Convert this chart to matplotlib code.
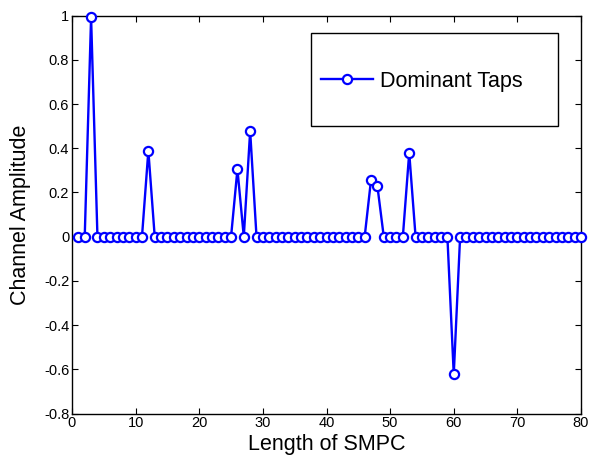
import numpy as np
import matplotlib
matplotlib.use('Agg')
import matplotlib.pyplot as plt
from matplotlib.patches import Rectangle

plt.rcParams['font.family'] = ['Liberation Sans', 'DejaVu Sans']
plt.rcParams['axes.unicode_minus'] = False

# tap index and channel amplitude (all other taps are zero)
NUM_TAPS = 80
tap_index = [3, 12, 26, 28, 47, 48, 53, 60]
tap_value = [0.993, 0.389, 0.305, 0.478, 0.258, 0.229, 0.38, -0.623]

x_ticks = [0, 10, 20, 30, 40, 50, 60, 70, 80]
y_ticks = [-0.8, -0.6, -0.4, -0.2, 0, 0.2, 0.4, 0.6, 0.8, 1]
y_tick_labels = ['-0.8', '-0.6', '-0.4', '-0.2', '0', '0.2', '0.4', '0.6', '0.8', '1']

x = np.arange(1, NUM_TAPS + 1)
y = np.zeros(NUM_TAPS)
for i, v in zip(tap_index, tap_value):
    y[i - 1] = v

fig = plt.figure(figsize=(5.89, 4.58), dpi=100)
ax = fig.add_axes([72/589, 1 - 413.5/458, (581 - 72)/589, (413.5 - 15.7)/458])

ax.plot(x, y, color='#0000ff', linewidth=1.7, marker='o', markersize=6.6,
        markerfacecolor='white', markeredgecolor='#0000ff', markeredgewidth=1.6,
        label='Dominant Taps', clip_on=False, zorder=3)

ax.set_xlim(0, 80)
ax.set_ylim(-0.8, 1)
ax.set_xticks(x_ticks)
ax.set_yticks(y_ticks)
ax.set_yticklabels(y_tick_labels)
ax.tick_params(direction='in', top=True, right=True, labelsize=10.5, length=4, width=0.8, pad=2)
for s in ax.spines.values():
    s.set_linewidth(1.0)

ax.set_xlabel('Length of SMPC', fontsize=15.5, labelpad=3)
ax.set_ylabel('Channel Amplitude', fontsize=15.5, labelpad=9)

# legend box drawn by hand so the padding matches
fig.patches.append(Rectangle((311/589, 1 - 125.7/458), (558 - 311)/589, (125.7 - 32.7)/458,
                             transform=fig.transFigure, facecolor='white', edgecolor='black',
                             linewidth=1.0, zorder=5))
leg = fig.legend(loc='center left', bbox_to_anchor=(321/589, 1 - 81/458), frameon=False,
                 fontsize=15.5, handlelength=2.4, handletextpad=0.35, borderpad=0,
                 borderaxespad=0)

fig.savefig('out.png', dpi=100)
